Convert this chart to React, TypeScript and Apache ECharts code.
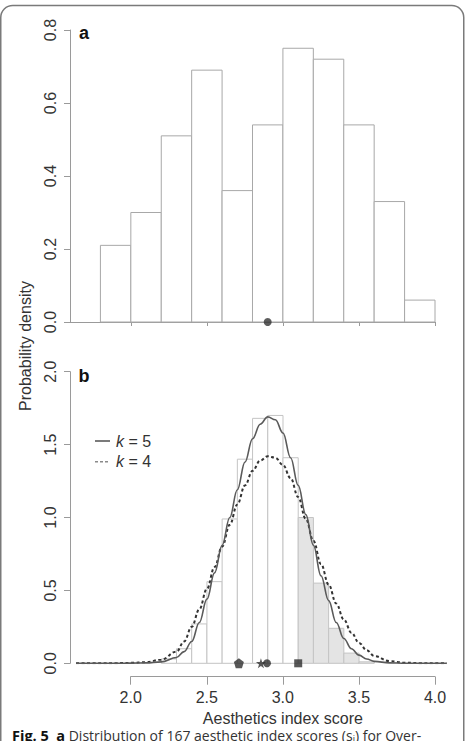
import React, { useEffect, useRef } from "react";
import * as echarts from "echarts";

// ---- data ----
const aEdges = [1.8, 2.0, 2.2, 2.4, 2.6, 2.8, 3.0, 3.2, 3.4, 3.6, 3.8, 4.0];
const aDensity = [0.21, 0.3, 0.51, 0.69, 0.36, 0.54, 0.75, 0.72, 0.54, 0.33, 0.06];
const aMean = 2.9;

const bEdges = [2.2, 2.3, 2.4, 2.5, 2.6, 2.7, 2.8, 2.9, 3.0, 3.1, 3.2, 3.3, 3.4, 3.5, 3.6];
const bDensity = [0.03, 0.1, 0.27, 0.56, 0.99, 1.4, 1.68, 1.7, 1.41, 1.0, 0.55, 0.24, 0.07, 0.01];
const bShadeFrom = 3.1;

const curveX = [1.64, 1.8, 1.9, 2.0, 2.1, 2.2, 2.3, 2.35, 2.4, 2.45, 2.5, 2.55, 2.6, 2.65, 2.7, 2.75, 2.8, 2.85, 2.9, 2.95, 3.0, 3.05, 3.1, 3.15, 3.2, 3.25, 3.3, 3.35, 3.4, 3.45, 3.5, 3.55, 3.6, 3.7, 3.8, 3.9, 4.0, 4.077];
const k5 = [0, 0, 0.0005, 0.001, 0.003, 0.01, 0.04, 0.08, 0.15, 0.28, 0.44, 0.62, 0.81, 1.0, 1.19, 1.38, 1.54, 1.64, 1.69, 1.67, 1.58, 1.41, 1.22, 1.02, 0.81, 0.6, 0.43, 0.28, 0.17, 0.1, 0.056, 0.03, 0.013, 0.003, 0.0005, 0, 0, 0];
const k4 = [0, 0.0005, 0.001, 0.003, 0.008, 0.025, 0.08, 0.15, 0.25, 0.37, 0.51, 0.66, 0.8, 0.95, 1.09, 1.22, 1.32, 1.39, 1.42, 1.41, 1.36, 1.27, 1.14, 0.99, 0.84, 0.68, 0.54, 0.41, 0.3, 0.21, 0.14, 0.09, 0.05, 0.015, 0.004, 0.001, 0, 0];

const markerX = [2.71, 2.855, 2.895, 3.1];
const markerShape = ["pentagon", "star", "circle", "square"];

const aTicksX = [2.0, 2.5, 3.0, 3.5, 4.0];

const FONT = "Liberation Sans, Arial, Helvetica, sans-serif";

const symbolPaths: Record<string, string> = {
  pentagon: "path://M50,0 L97.6,34.5 L79.4,90.5 L20.6,90.5 L2.4,34.5 Z",
  star: "path://M50,0 L61.2,34.5 L97.6,34.5 L68.2,55.9 L79.4,90.5 L50,69.1 L20.6,90.5 L31.8,55.9 L2.4,34.5 L38.8,34.5 Z",
  circle: "circle",
  square: "rect",
};
const symbolSizes: Record<string, number> = { pentagon: 10, star: 10, circle: 8, square: 8 };

function histData(edges: number[], dens: number[]) {
  return dens.map((d, i) => [edges[i], edges[i + 1], d]);
}

function makeRender(stroke: string, shadeFrom: number | null) {
  return (params: any, api: any) => {
    const x0 = api.value(0);
    const x1 = api.value(1);
    const h = api.value(2);
    const p0 = api.coord([x0, h]);
    const p1 = api.coord([x1, 0]);
    const shaded = shadeFrom !== null && x0 >= shadeFrom - 1e-9;
    return {
      type: "rect",
      shape: { x: p0[0], y: p0[1], width: p1[0] - p0[0], height: p1[1] - p0[1] },
      style: { fill: shaded ? "#e4e4e4" : "#ffffff", stroke, lineWidth: 1 },
    };
  };
}

export default function App() {
  const ref = useRef<HTMLDivElement>(null);
  useEffect(() => {
    if (!ref.current) return;
    const chart = echarts.init(ref.current, null, { renderer: "svg" });
    const axisColor = "#9a9a9a";
    const labelColor = "#333";
    const yAxisCommon = {
      type: "value",
      axisLine: { show: true, lineStyle: { color: axisColor, width: 1 } },
      axisTick: { show: true, inside: false, length: 6, lineStyle: { color: axisColor } },
      axisLabel: {
        rotate: 90,
        margin: 12,
        fontSize: 16,
        fontFamily: FONT,
        color: labelColor,
        formatter: (v: number) => v.toFixed(1),
      },
      splitLine: { show: false },
    };
    chart.setOption({
      animation: false,
      backgroundColor: "#fff",
      grid: [
        { left: 70, top: 30, width: 365, height: 292 },
        { left: 70, top: 371.7, width: 377.3, height: 291.6 },
        { left: 130.7, top: 675.7, width: 304.3, height: 1 },
      ],
      xAxis: [
        {
          gridIndex: 0,
          type: "value",
          min: 1.6,
          max: 4.0,
          axisLine: { show: true, onZero: false, lineStyle: { color: axisColor } },
          axisTick: { show: true, length: 4, customValues: aTicksX, lineStyle: { color: axisColor } },
          axisLabel: { show: false },
          splitLine: { show: false },
        },
        {
          gridIndex: 1,
          type: "value",
          min: 1.6,
          max: 4.08,
          show: false,
        },
        {
          gridIndex: 2,
          type: "value",
          min: 2.0,
          max: 4.0,
          interval: 0.5,
          axisLine: { show: true, onZero: false, lineStyle: { color: axisColor } },
          axisTick: { show: true, length: 8, lineStyle: { color: axisColor } },
          axisLabel: {
            margin: 13,
            fontSize: 16,
            fontFamily: FONT,
            color: labelColor,
            formatter: (v: number) => v.toFixed(1),
          },
          splitLine: { show: false },
          name: "Aesthetics index score",
          nameLocation: "middle",
          nameGap: 34,
          nameTextStyle: { fontSize: 16, fontFamily: FONT, color: labelColor },
        },
      ],
      yAxis: [
        { ...yAxisCommon, gridIndex: 0, min: 0, max: 0.8, interval: 0.2 },
        { ...yAxisCommon, gridIndex: 1, min: 0, max: 2.0, interval: 0.5 },
        { gridIndex: 2, type: "value", min: 0, max: 1, show: false },
      ],
      series: [
        {
          type: "custom",
          xAxisIndex: 0,
          yAxisIndex: 0,
          renderItem: makeRender("#a8a8a8", null),
          encode: { x: [0, 1], y: 2 },
          data: histData(aEdges, aDensity),
          z: 2,
        },
        {
          type: "scatter",
          xAxisIndex: 0,
          yAxisIndex: 0,
          data: [[aMean, 0]],
          symbol: "circle",
          symbolSize: 8,
          itemStyle: { color: "#333" },
          z: 5,
        },
        {
          type: "custom",
          xAxisIndex: 1,
          yAxisIndex: 1,
          renderItem: makeRender("#c4c4c4", bShadeFrom),
          encode: { x: [0, 1], y: 2 },
          data: histData(bEdges, bDensity),
          z: 2,
        },
        {
          type: "line",
          name: "k = 4",
          xAxisIndex: 1,
          yAxisIndex: 1,
          data: curveX.map((x, i) => [x, k4[i]]),
          showSymbol: false,
          symbol: "none",
          smooth: 0.4,
          smoothMonotone: "x",
          lineStyle: { color: "#333", width: 2, type: [3, 2.5] },
          z: 3,
        },
        {
          type: "line",
          name: "k = 5",
          xAxisIndex: 1,
          yAxisIndex: 1,
          data: curveX.map((x, i) => [x, k5[i]]),
          showSymbol: false,
          symbol: "none",
          smooth: 0.4,
          smoothMonotone: "x",
          lineStyle: { color: "#5a5a5a", width: 1.6 },
          z: 4,
        },
        {
          type: "scatter",
          xAxisIndex: 1,
          yAxisIndex: 1,
          data: markerX.map((x, i) => ({
            value: [x, 0],
            symbol: symbolPaths[markerShape[i]],
            symbolSize: symbolSizes[markerShape[i]],
          })),
          itemStyle: { color: "#2e2e2e" },
          z: 6,
        },
      ],
      graphic: [
        {
          type: "rect",
          shape: { x: 0.75, y: 5.5, width: 463, height: 780, r: [12, 12, 0, 0] },
          style: { fill: "none", stroke: "#7a7a7a", lineWidth: 1.5 },
          z: 10,
        },
        {
          type: "text",
          x: 84,
          y: 33,
          style: { text: "a", fontSize: 18, fontWeight: "bold", fontFamily: FONT, fill: "#111", align: "center", verticalAlign: "middle" },
        },
        {
          type: "text",
          x: 84,
          y: 376,
          style: { text: "b", fontSize: 18, fontWeight: "bold", fontFamily: FONT, fill: "#111", align: "center", verticalAlign: "middle" },
        },
        {
          type: "text",
          x: 25,
          y: 346,
          rotation: Math.PI / 2,
          style: { text: "Probability density", fontSize: 16, fontFamily: FONT, fill: labelColor, align: "center", verticalAlign: "middle" },
        },
        {
          type: "line",
          shape: { x1: 95, y1: 441, x2: 110, y2: 441 },
          style: { stroke: "#5a5a5a", lineWidth: 1.6 },
        },
        {
          type: "line",
          shape: { x1: 95, y1: 461.7, x2: 110, y2: 461.7 },
          style: { stroke: "#8a8a8a", lineWidth: 1.6, lineDash: [3, 2] },
        },
        {
          type: "text",
          x: 116,
          y: 441,
          style: {
            text: "{i|k} = 5",
            fontSize: 16,
            fontFamily: FONT,
            fill: labelColor,
            verticalAlign: "middle",
            rich: { i: { fontStyle: "italic", fontSize: 16, fontFamily: FONT, fill: labelColor } },
          },
        },
        {
          type: "text",
          x: 116,
          y: 461.7,
          style: {
            text: "{i|k} = 4",
            fontSize: 16,
            fontFamily: FONT,
            fill: labelColor,
            verticalAlign: "middle",
            rich: { i: { fontStyle: "italic", fontSize: 16, fontFamily: FONT, fill: labelColor } },
          },
        },
        {
          type: "text",
          x: 12,
          y: 735,
          style: {
            text: "{b|Fig. 5  a} Distribution of 167 aesthetic index scores (s{s|i}) for Over-",
            fontSize: 14,
            fontFamily: "Open Sans, Noto Sans, sans-serif",
            fill: "#333",
            verticalAlign: "middle",
            rich: {
              b: { fontWeight: "bold", fontSize: 14.5, fontFamily: "Open Sans, Noto Sans, sans-serif", fill: "#111" },
              s: { fontSize: 9, fontFamily: "Open Sans, Noto Sans, sans-serif", fill: "#333", padding: [6, 0, 0, 0] },
            },
          },
        },
      ],
    });
    return () => chart.dispose();
  }, []);
  return (
    <div
      ref={ref}
      style={{ position: "absolute", left: 0, top: 0, width: 465, height: 741, background: "#fff" }}
    />
  );
}
